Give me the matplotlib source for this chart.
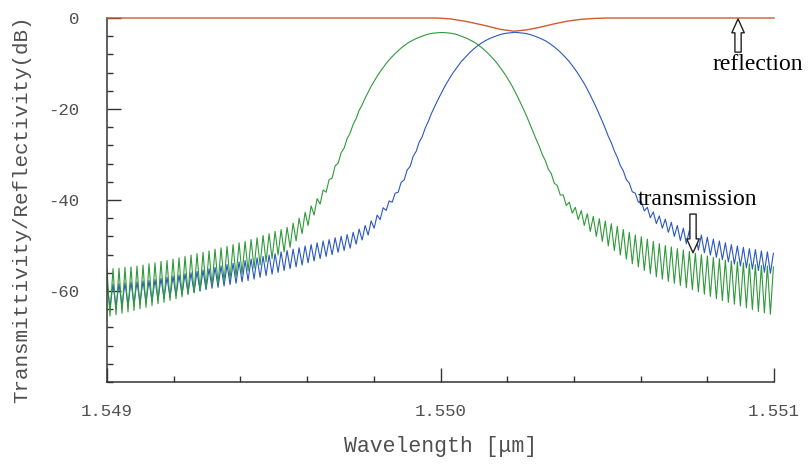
import numpy as np
import matplotlib
matplotlib.use("Agg")
import matplotlib.pyplot as plt
from matplotlib.ticker import FixedLocator, MultipleLocator, NullFormatter

# Spectra sampled on a uniform wavelength grid (µm)
WL_START = 1.549
WL_STEP = 0.000009

# Transmission spectrum of the first grating (green), dB
green_db = [
    -55.3, -65.5, -55.1, -65.2, -55.0, -64.9, -54.8, -64.6, -54.7, -64.3,
    -54.5, -63.9, -54.3, -63.6, -54.0, -63.2, -53.8, -62.8, -53.5, -62.5,
    -53.3, -62.1, -53.0, -61.7, -52.7, -61.3, -52.4, -60.8, -52.1, -60.4,
    -51.8, -60.0, -51.5, -59.5, -51.2, -59.0, -50.8, -58.5, -50.5, -58.0,
    -50.2, -57.5, -49.8, -56.9, -49.4, -56.3, -49.1, -55.6, -48.7, -55.0,
    -48.3, -54.3, -47.8, -53.6, -47.4, -52.9, -46.9, -52.1, -46.5, -51.4,
    -46.0, -50.4, -45.1, -49.0, -44.0, -47.4, -42.7, -45.6, -41.3, -43.3,
    -39.7, -40.9, -37.8, -38.3, -35.5, -35.2, -32.5, -31.9, -29.6, -28.6,
    -26.5, -25.3, -23.4, -22.1, -20.3, -19.1, -17.6, -16.3, -15.0, -13.9,
    -12.8, -11.8, -10.9, -10.0, -9.2, -8.5, -7.8, -7.2, -6.6, -6.1,
    -5.6, -5.2, -4.85, -4.5, -4.25, -4.0, -3.75, -3.55, -3.4, -3.3,
    -3.25, -3.2, -3.2, -3.25, -3.3, -3.4, -3.55, -3.75, -4.0, -4.25,
    -4.5, -4.85, -5.2, -5.6, -6.1, -6.6, -7.2, -7.8, -8.5, -9.2,
    -10.0, -10.9, -11.8, -12.8, -13.9, -15.0, -16.3, -17.6, -19.0, -20.4,
    -21.9, -23.5, -25.1, -26.7, -28.2, -30.0, -31.3, -33.2, -34.2, -36.3,
    -36.8, -38.9, -38.9, -41.2, -40.5, -42.9, -41.6, -44.3, -42.3, -45.6,
    -43.0, -46.9, -43.6, -48.0, -44.1, -49.1, -44.6, -50.1, -45.2, -51.1,
    -45.8, -52.1, -46.5, -53.0, -47.1, -54.0, -47.7, -54.7, -48.1, -55.5,
    -48.6, -56.2, -49.1, -56.9, -49.6, -57.4, -50.0, -57.9, -50.3, -58.3,
    -50.7, -58.8, -51.0, -59.3, -51.3, -59.7, -51.7, -60.2, -52.0, -60.7,
    -52.3, -61.2, -52.6, -61.7, -52.9, -62.1, -53.2, -62.5, -53.4, -62.9,
    -53.6, -63.3, -53.8, -63.7, -54.0, -64.1, -54.2, -64.5, -54.4, -64.8,
    -54.5, -65.1, -54.7,
]

# Transmission spectrum of the second grating (blue), dB
blue_db = [
    -58.6, -63.7, -58.5, -63.5, -58.4, -63.3, -58.2, -63.1, -58.1, -62.8,
    -58.0, -62.6, -57.8, -62.4, -57.7, -62.2, -57.5, -61.9, -57.2, -61.6,
    -57.0, -61.4, -56.7, -61.1, -56.5, -60.8, -56.2, -60.5, -56.0, -60.3,
    -55.7, -60.0, -55.4, -59.7, -55.1, -59.4, -54.8, -59.2, -54.5, -58.9,
    -54.2, -58.6, -53.9, -58.3, -53.6, -58.0, -53.3, -57.7, -53.0, -57.4,
    -52.7, -57.0, -52.4, -56.6, -52.1, -56.3, -51.8, -55.9, -51.4, -55.5,
    -51.1, -55.1, -50.8, -54.7, -50.5, -54.3, -50.1, -53.8, -49.8, -53.4,
    -49.4, -52.9, -49.0, -52.4, -48.7, -52.0, -48.3, -51.5, -48.0, -51.1,
    -47.6, -50.6, -47.1, -49.7, -46.4, -48.8, -45.6, -47.7, -44.6, -46.2,
    -43.3, -44.3, -41.7, -42.3, -40.2, -40.5, -38.5, -38.3, -36.1, -35.6,
    -33.4, -32.6, -30.4, -29.3, -27.3, -26.1, -24.2, -22.8, -21.1, -19.7,
    -18.3, -17.0, -15.7, -14.5, -13.4, -12.3, -11.4, -10.5, -9.6, -8.9,
    -8.2, -7.5, -6.9, -6.35, -5.85, -5.4, -5.0, -4.67, -4.37, -4.12,
    -3.87, -3.65, -3.47, -3.35, -3.28, -3.22, -3.15, -3.22, -3.28, -3.35,
    -3.47, -3.65, -3.87, -4.12, -4.37, -4.67, -5.0, -5.4, -5.85, -6.35,
    -6.9, -7.5, -8.15, -8.85, -9.6, -10.45, -11.35, -12.3, -13.35, -14.45,
    -15.65, -16.95, -18.3, -19.7, -21.2, -22.7, -24.3, -26.0, -27.4, -29.2,
    -30.6, -32.4, -33.6, -35.5, -36.3, -38.2, -38.5, -40.5, -40.3, -42.4,
    -41.6, -43.9, -42.6, -45.2, -43.5, -46.2, -44.2, -47.1, -44.9, -48.0,
    -45.6, -48.9, -46.2, -49.6, -46.7, -50.3, -47.2, -51.0, -47.7, -51.6,
    -48.2, -52.1, -48.6, -52.6, -49.0, -53.1, -49.4, -53.6, -49.8, -54.1,
    -50.1, -54.5, -50.4, -54.9, -50.7, -55.2, -50.9, -55.5, -51.2, -55.9,
    -51.4, -56.1, -51.7,
]

# Reflection spectrum (red), dB
refl_wl = [1.549000, 1.549990, 1.550030, 1.550080, 1.550130, 1.550180,
           1.550220, 1.550260, 1.550300, 1.550340, 1.550380, 1.550420,
           1.550460, 1.550500, 1.551000]
refl_db = [0.0, 0.0, -0.2, -0.8, -1.6, -2.5,
           -2.9, -2.6, -2.0, -1.3, -0.7, -0.3,
           -0.1, 0.0, 0.0]

x_major = [1.549, 1.550, 1.551]
x_labels = ["1.549", "1.550", "1.551"]
y_major = [0, -20, -40, -60]
y_labels = ["0", "-20", "-40", "-60"]

wl = WL_START + WL_STEP * np.arange(len(green_db))

mono = "Liberation Mono"
serif = "Liberation Serif"

fig = plt.figure(figsize=(8.08, 4.65), dpi=100)
ax = fig.add_axes([0.1324, 0.1785, 0.8256, 0.7828])

ax.plot(wl, blue_db, color="#2a58c0", lw=0.8)
ax.plot(wl, green_db, color="#2f9a3a", lw=0.8)
ax.plot(refl_wl, refl_db, color="#d05a34", lw=1.0, clip_on=False, zorder=5)

ax.set_xlim(1.549, 1.551)
ax.set_ylim(-80, 0)

for side in ("top", "right"):
    ax.spines[side].set_visible(False)
for side in ("left", "bottom"):
    ax.spines[side].set_color("#333333")
    ax.spines[side].set_linewidth(1.1)

ax.xaxis.set_major_locator(FixedLocator(x_major))
ax.set_xticklabels(x_labels)
ax.xaxis.set_minor_locator(MultipleLocator(0.0002))
ax.xaxis.set_minor_formatter(NullFormatter())
ax.yaxis.set_major_locator(FixedLocator(y_major))
ax.set_yticklabels(y_labels)
ax.yaxis.set_minor_locator(MultipleLocator(4))
ax.yaxis.set_minor_formatter(NullFormatter())

ax.tick_params(which="major", direction="in", length=10, width=1.0,
               color="#333333", labelcolor="#505050", labelsize=12.5)
ax.tick_params(which="minor", direction="in", length=4.5, width=1.0,
               color="#333333")
ax.tick_params(axis="x", which="major", pad=16)
ax.tick_params(axis="y", which="major", pad=20)
for lab in ax.get_xticklabels() + ax.get_yticklabels():
    lab.set_family(mono)

ax.set_xlabel("Wavelength [μm]", family=mono, fontsize=15.5,
              color="#505050", labelpad=12)
ax.set_ylabel("Transmittivity/Reflectivity(dB)", family=mono, fontsize=15,
              color="#505050")
ax.yaxis.set_label_coords(-0.113, 0.475)

# Hollow arrows pointing at the curves
arrow_style = "simple,head_width=0.9,head_length=1.0,tail_width=0.45"
ax.annotate("", xy=(1.550892, -0.2), xytext=(1.550892, -7.5),
            arrowprops=dict(arrowstyle=arrow_style, fc="white", ec="#222222",
                            lw=1.0, mutation_scale=10, shrinkA=0, shrinkB=0),
            annotation_clip=False, zorder=6)
ax.annotate("", xy=(1.550757, -51.6), xytext=(1.550757, -43.1),
            arrowprops=dict(arrowstyle=arrow_style, fc="white", ec="#222222",
                            lw=1.0, mutation_scale=10, shrinkA=0, shrinkB=0),
            annotation_clip=False, zorder=6)

ax.text(1.550814, -11.4, "reflection", family=serif, fontsize=17,
        color="black", ha="left", va="baseline", clip_on=False)
ax.text(1.550592, -41.1, "transmission", family=serif, fontsize=17,
        color="black", ha="left", va="baseline", clip_on=False)

fig.savefig("out.png", dpi=100)
